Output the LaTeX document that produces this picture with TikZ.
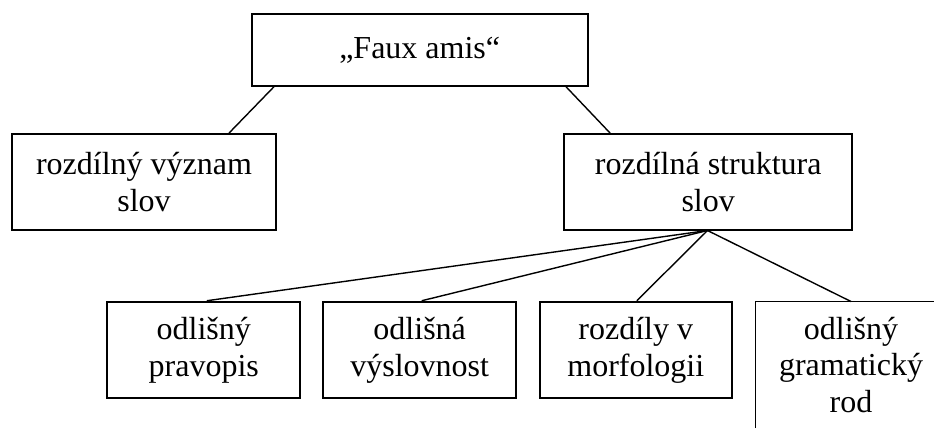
\documentclass[tikz,border=0pt]{standalone}
\usepackage{fontspec}
\setmainfont{Liberation Serif}
\begin{document}
\begin{tikzpicture}[x=1pt,y=-1pt,
  box/.style={draw=black, line width=1.9pt, inner sep=0pt, align=center,
    font=\fontsize{32}{36.8}\selectfont},
  openbox/.style={inner sep=0pt, align=center, font=\fontsize{32}{36.8}\selectfont},
  link/.style={line width=1.4pt, draw=black}]
\useasboundingbox (0,0) rectangle (934,439);
\clip (0,0) rectangle (934,439);
\node[box, minimum width=336pt, minimum height=71.7pt] (top) at (419.7,49.85) {„Faux amis“};
\node[box, minimum width=263.4pt, minimum height=96pt] (left) at (144,182) {rozdílný význam\\slov};
\node[box, minimum width=288.3pt, minimum height=95.5pt] (right) at (708.2,181.8) {rozdílná struktura\\slov};
\node[box, minimum width=193pt, minimum height=96.6pt] (b1) at (203.8,350) {odlišný\\pravopis};
\node[box, minimum width=192.7pt, minimum height=96.6pt] (b2) at (419.7,350) {odlišná\\výslovnost};
\node[box, minimum width=191.7pt, minimum height=96.6pt] (b3) at (635.8,350) {rozdíly v\\morfologii};
\node[openbox, minimum width=190.6pt, minimum height=126.3pt] (b4) at (851,364.85) {odlišný\\gramatický\\rod};
\draw[line width=1.9pt] (b4.south west) -- (b4.north west) -- (b4.north east);
\draw[link] ([xshift=23.3pt]top.south west) -- ([xshift=217.7pt]left.north west);
\draw[link] ([xshift=-22.7pt]top.south east) -- ([xshift=47pt]right.north west);
\draw[link] ([xshift=-0.7pt]right.south) -- ([xshift=3pt]b1.north);
\draw[link] ([xshift=-0.7pt]right.south) -- ([xshift=2pt]b2.north);
\draw[link] ([xshift=-0.7pt]right.south) -- ([xshift=1pt]b3.north);
\draw[link] ([xshift=-0.7pt]right.south) -- (b4.north);
\end{tikzpicture}
\end{document}
